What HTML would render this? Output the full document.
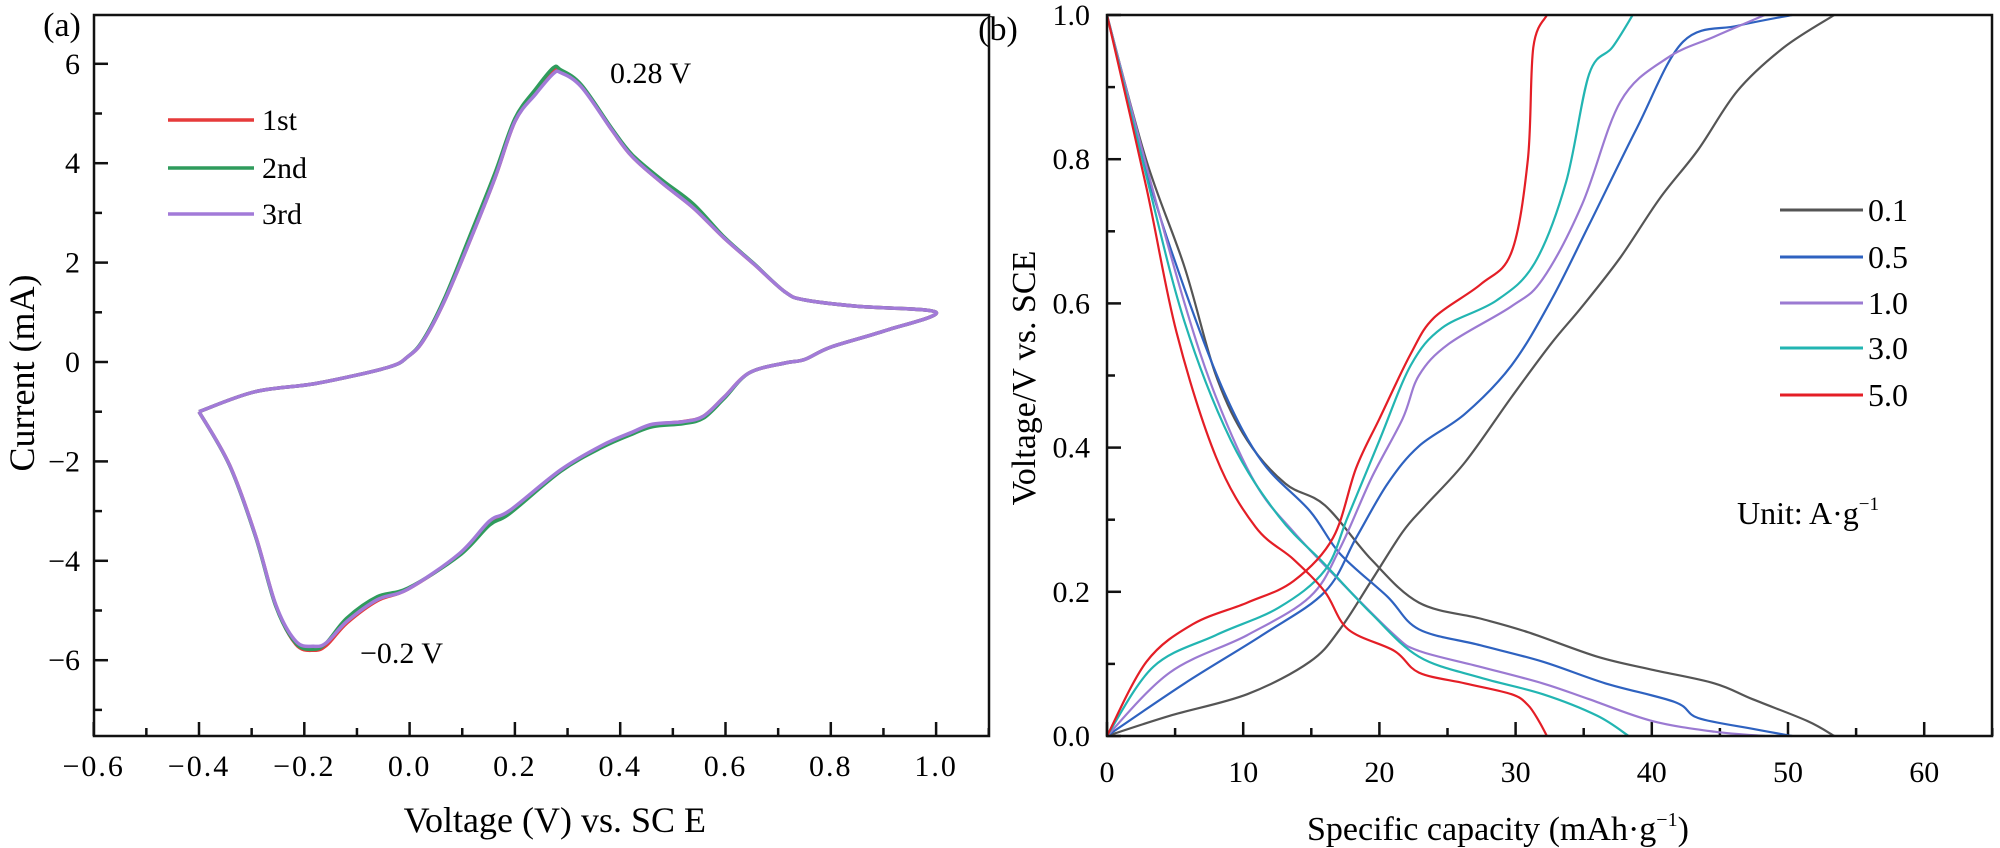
<!DOCTYPE html>
<html><head><meta charset="utf-8"><style>
html,body{margin:0;padding:0;background:#fff;}
svg{display:block;font-family:"Liberation Serif",serif;}
</style></head><body>
<svg id="fig" width="2000" height="848" viewBox="0 0 2000 848"></svg>
<script>
// ---- Panel (a) CV data ----
const cvX = [-0.4,-0.294,-0.177,-0.042,-0.003,0.026,0.065,0.113,0.162,0.2,0.24,0.273,0.287,0.326,0.384,0.423,0.481,0.539,0.597,0.655,0.713,0.75,0.85,1.0,0.9,0.8,0.75,0.713,0.645,0.597,0.558,0.52,0.462,0.423,0.365,0.287,0.19,0.152,0.094,-0.003,-0.061,-0.119,-0.158,-0.182,-0.216,-0.254,-0.293,-0.342,-0.4];
const cv1st = [-1.0,-0.6,-0.43,-0.11,0.11,0.43,1.2,2.4,3.7,4.84,5.43,5.85,5.85,5.56,4.67,4.13,3.59,3.1,2.5,1.96,1.41,1.25,1.12,1.0,0.62,0.3,0.05,-0.02,-0.22,-0.71,-1.09,-1.2,-1.26,-1.42,-1.7,-2.18,-3.0,-3.22,-3.88,-4.57,-4.8,-5.25,-5.7,-5.8,-5.68,-4.9,-3.48,-2.07,-1.0];
const cv2nd = [-1.0,-0.6,-0.43,-0.11,0.11,0.45,1.25,2.5,3.8,4.9,5.5,5.92,5.88,5.58,4.7,4.17,3.65,3.18,2.52,1.97,1.41,1.25,1.12,1.0,0.62,0.3,0.05,-0.02,-0.22,-0.74,-1.13,-1.24,-1.3,-1.45,-1.72,-2.2,-3.05,-3.28,-3.9,-4.55,-4.72,-5.15,-5.65,-5.78,-5.66,-4.92,-3.5,-2.08,-1.0];
const cv3rd = [-1.0,-0.6,-0.43,-0.11,0.11,0.43,1.2,2.4,3.7,4.84,5.4,5.8,5.82,5.54,4.67,4.13,3.59,3.1,2.5,1.96,1.41,1.25,1.12,1.0,0.62,0.3,0.05,-0.02,-0.22,-0.71,-1.09,-1.2,-1.25,-1.41,-1.68,-2.17,-2.99,-3.2,-3.86,-4.57,-4.78,-5.22,-5.65,-5.72,-5.62,-4.89,-3.48,-2.07,-1.0];
const cvSeriesNames = ["1st","2nd","3rd"];
const cvXTicks = [-0.6,-0.4,-0.2,0.0,0.2,0.4,0.6,0.8,1.0];
const cvYTicks = [-6,-4,-2,0,2,4,6];

// ---- Panel (b) GCD data ----
const gcdNames = ["0.1","0.5","1.0","3.0","5.0"];
const disCap01 = [0,2.86,5.7,8,10.3,13.1,16,19.4,22.9,27.4,30.9,36,40,44.6,47.4,51.4,53.4];
const disV01   = [1,0.80,0.65,0.50,0.41,0.35,0.32,0.245,0.185,0.163,0.144,0.11,0.092,0.073,0.051,0.021,0];
const chCap01  = [0,4.6,10.3,14.9,17.1,19.4,21.7,23.4,26.3,29.7,32.6,34.9,37.7,40.6,43.4,46.3,49.7,53.4];
const chV01    = [0,0.028,0.058,0.103,0.148,0.215,0.283,0.32,0.38,0.47,0.544,0.596,0.664,0.746,0.813,0.895,0.955,1];
const disCap05 = [0,2.9,5.7,8.6,11.4,14.9,17.1,20.6,22.9,27.4,32,36.6,41.7,43.4,47.4,50.3];
const disV05   = [1,0.783,0.62,0.477,0.38,0.312,0.253,0.193,0.148,0.126,0.103,0.073,0.047,0.025,0.01,0];
const chCap05  = [0,5.7,11.4,16,18.3,20.6,22.9,26.3,29.7,32.6,35.4,38.9,42.3,46.3,50.3];
const chV05    = [0,0.073,0.14,0.2,0.275,0.35,0.402,0.447,0.514,0.604,0.709,0.843,0.963,0.985,1];
const disCap10 = [0,2.9,5.7,8,10.9,13.7,17.1,21.1,22.9,27.4,32,35.4,40,44.6,48.3];
const disV10   = [1,0.79,0.60,0.47,0.35,0.283,0.215,0.14,0.118,0.096,0.073,0.051,0.021,0.006,0];
const chCap10  = [0,4.6,10.3,14.9,17.1,19.4,21.7,22.9,25.1,29.7,32,34.9,37.7,41.1,44.6,48.3];
const chV10    = [0,0.088,0.14,0.193,0.26,0.357,0.44,0.5,0.544,0.596,0.634,0.738,0.88,0.94,0.97,1];
const disCap30 = [0,2.9,5.7,9.1,12.6,16,19.4,22.9,27.4,32,36,38.3];
const disV30   = [1,0.776,0.574,0.41,0.305,0.238,0.17,0.11,0.081,0.058,0.028,0];
const chCap30  = [0,3.4,8,12.6,16,17.7,20,22.3,24.6,28.6,31.4,33.7,35.4,37.1,38.6];
const chV30    = [0,0.096,0.14,0.178,0.23,0.305,0.41,0.514,0.566,0.604,0.656,0.768,0.918,0.955,1];
const disCap50 = [0,2.9,5.1,8,10.9,13.7,16,17.7,21.1,22.9,26.3,29.7,30.9,31.7,32.3];
const disV50   = [1,0.76,0.56,0.387,0.29,0.245,0.2,0.148,0.118,0.088,0.073,0.058,0.043,0.021,0];
const chCap50  = [0,2.9,6.3,10.3,13.7,16.6,18.3,20,22.3,24,27.4,29.7,30.9,31.3,32.3];
const chV50    = [0,0.103,0.155,0.185,0.215,0.275,0.372,0.44,0.53,0.58,0.626,0.671,0.8,0.955,1];
const gcdXTicks = [0,10,20,30,40,50,60];
const gcdYTicks = [0.0,0.2,0.4,0.6,0.8,1.0];

const NS="http://www.w3.org/2000/svg";
const svg=document.getElementById('fig');
function mk(tag,attrs,parent){const e=document.createElementNS(NS,tag);for(const k in attrs)e.setAttribute(k,attrs[k]);(parent||svg).appendChild(e);return e;}
function smooth(pts){
  let d="M"+pts[0][0].toFixed(1)+","+pts[0][1].toFixed(1);
  for(let i=0;i<pts.length-1;i++){
    const p0=pts[i-1]||pts[i],p1=pts[i],p2=pts[i+1],p3=pts[i+2]||p2;
    const c1=[p1[0]+(p2[0]-p0[0])/6,p1[1]+(p2[1]-p0[1])/6];
    const c2=[p2[0]-(p3[0]-p1[0])/6,p2[1]-(p3[1]-p1[1])/6];
    d+="C"+c1.map(v=>v.toFixed(1))+" "+c2.map(v=>v.toFixed(1))+" "+p2[0].toFixed(1)+","+p2[1].toFixed(1);
  }
  return d;
}

// Panel a axes
const aL=94,aR=989,aT=15,aB=736;
const ax=v=>409.6+(v/0.2)*105.3;
const ay=v=>362-v*49.7;
const gA=mk('g',{});  
let t=mk('text',{x:62,y:36,'font-size':34,'text-anchor':'middle'},gA); t.textContent='(a)';
 
for(let v=-0.6;v<=1.101;v+=0.1){
  const x=ax(v); const major=Math.abs(Math.round(v*10)%2)===0;
  const l=mk('line',{x1:x,x2:x,y1:aB,y2:aB-(major?14:8),stroke:'#111','stroke-width':2.5},gA);
   
}
for(let v=-7;v<=6;v++){
  const y=ay(v); const major=v%2===0;
  const l=mk('line',{x1:aL,x2:aL+(major?14:8),y1:y,y2:y,stroke:'#111','stroke-width':2.5},gA);
   
}
cvXTicks.forEach(v=>{const e=mk('text',{x:ax(v),y:776,'font-size':30,'text-anchor':'middle','letter-spacing':'2'},gA);e.textContent=(v<0?'\u2212':'')+Math.abs(v).toFixed(1);
   });
cvYTicks.forEach(v=>{const e=mk('text',{x:80,y:ay(v)+10,'font-size':30,'text-anchor':'end'},gA);e.textContent=(v<0?'\u2212':'')+Math.abs(v);
   });
t=mk('text',{x:706,y:832,'font-size':36,'text-anchor':'end'},gA); t.textContent='Voltage (V) vs. SC E';
 
t=mk('text',{x:0,y:0,'font-size':36,'text-anchor':'middle',transform:'translate(34,373) rotate(-90)'},gA); t.textContent='Current (mA)';
 
const cvColors=['#e63a3a','#2f9b5c','#a27ad8'];
[cv1st,cv2nd,cv3rd].forEach((ys,i)=>{
  const p=mk('path',{d:smooth(cvX.map((x,j)=>[ax(x),ay(ys[j])])),fill:'none',stroke:cvColors[i],'stroke-width':3.5,'stroke-linejoin':'round'},gA);
   
});
const frA=mk('rect',{x:aL,y:aT,width:aR-aL,height:aB-aT,fill:'none',stroke:'#111','stroke-width':2.5},gA);
 
[120,168,214].forEach((y,i)=>{
  const l=mk('line',{x1:168,x2:254,y1:y,y2:y,stroke:cvColors[i],'stroke-width':3.5},gA);
   
  const e=mk('text',{x:262,y:y+10,'font-size':30},gA); e.textContent=cvSeriesNames[i];
   
});
t=mk('text',{x:610,y:83,'font-size':30},gA); t.textContent='0.28 V';
 
t=mk('text',{x:360,y:663,'font-size':30},gA); t.textContent='\u22120.2 V';
 

// Panel b axes
const bL=1107,bR=1992,bT=15,bB=736;
const bx=v=>bL+v*13.62;
const by=v=>bB-v*(bB-bT);
const gB=mk('g',{});  
t=mk('text',{x:998,y:40,'font-size':34,'text-anchor':'middle'},gB); t.textContent='(b)';
 
for(let v=0;v<=65;v+=5){
  const major=v%10===0;
  const l=mk('line',{x1:bx(v),x2:bx(v),y1:bB,y2:bB-(major?14:8),stroke:'#111','stroke-width':2.5},gB);
   
}
for(let k=0;k<=10;k++){
  const v=k/10; const major=k%2===0;
  const l=mk('line',{x1:bL,x2:bL+(major?14:8),y1:by(v),y2:by(v),stroke:'#111','stroke-width':2.5},gB);
   
}
gcdXTicks.forEach(v=>{const e=mk('text',{x:bx(v),y:782,'font-size':30,'text-anchor':'middle'},gB);e.textContent=String(v);
   });
gcdYTicks.forEach(v=>{const e=mk('text',{x:1090,y:by(v)+10,'font-size':30,'text-anchor':'end'},gB);e.textContent=v.toFixed(1);
   });
t=mk('text',{x:1307,y:840,'font-size':34},gB); t.innerHTML='Specific capacity (mAh\u00b7g<tspan font-size="20" dy="-14">\u22121</tspan><tspan dy="14">)</tspan>';
 
t=mk('text',{x:0,y:0,'font-size':34,'text-anchor':'middle',transform:'translate(1035,378) rotate(-90)'},gB); t.textContent='Voltage/V vs. SCE';
 
const gcdColors=['#555555','#2e62c0','#9b7ad2','#22b5b2','#e41e26'];
const gcdData=[[disCap01,disV01,chCap01,chV01],[disCap05,disV05,chCap05,chV05],[disCap10,disV10,chCap10,chV10],[disCap30,disV30,chCap30,chV30],[disCap50,disV50,chCap50,chV50]];
gcdData.forEach((s,i)=>{
  const p1=mk('path',{d:smooth(s[0].map((c,j)=>[bx(c),by(s[1][j])])),fill:'none',stroke:gcdColors[i],'stroke-width':2.2},gB);
   
  const p2=mk('path',{d:smooth(s[2].map((c,j)=>[bx(c),by(s[3][j])])),fill:'none',stroke:gcdColors[i],'stroke-width':2.2},gB);
   
});
const frB=mk('rect',{x:bL,y:bT,width:bR-bL,height:bB-bT,fill:'none',stroke:'#111','stroke-width':2.5},gB);
 
[210,257,303,348,395].forEach((y,i)=>{
  const l=mk('line',{x1:1780,x2:1863,y1:y,y2:y,stroke:gcdColors[i],'stroke-width':3},gB);
   
  const e=mk('text',{x:1868,y:y+11,'font-size':32},gB); e.textContent=gcdNames[i];
   
});
t=mk('text',{x:1737,y:524,'font-size':32},gB); t.innerHTML='Unit: A\u00b7g<tspan font-size="19" dy="-14">\u22121</tspan>';
 
</script>
</body></html>
